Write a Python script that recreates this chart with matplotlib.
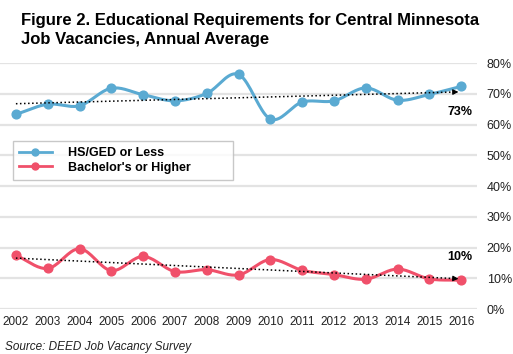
import matplotlib
matplotlib.use('Agg')
import matplotlib.pyplot as plt
import numpy as np

plt.rcParams['font.family'] = ['Liberation Sans', 'DejaVu Sans']

years = list(range(2002, 2017))
hs_ged = [63.3, 66.6, 66.1, 71.8, 69.7, 67.7, 70.1, 76.3, 61.8, 67.3, 67.7, 71.9, 67.9, 69.8, 72.4]
bachelors = [17.5, 13.2, 19.6, 12.5, 17.1, 12.2, 12.8, 11.1, 16.1, 12.6, 11.2, 9.7, 13.0, 9.8, 9.4]
ytick_vals = [0, 10, 20, 30, 40, 50, 60, 70, 80]

blue = '#5aaad2'
red = '#f0506a'


def smooth(x, y, n=20):
    # catmull-rom curve through the points, like the spreadsheet "smoothed line"
    x = np.asarray(x, float)
    y = np.asarray(y, float)
    xs, ys = [], []
    for i in range(len(x) - 1):
        p0 = y[i - 1] if i > 0 else y[i]
        p3 = y[i + 2] if i + 2 < len(y) else y[i + 1]
        m1 = (y[i + 1] - p0) / (2 if i > 0 else 1)
        m2 = (p3 - y[i]) / (2 if i + 2 < len(y) else 1)
        t = np.linspace(0, 1, n)
        h00 = 2*t**3 - 3*t**2 + 1
        h10 = t**3 - 2*t**2 + t
        h01 = -2*t**3 + 3*t**2
        h11 = t**3 - t**2
        xs.append(x[i] + t*(x[i + 1] - x[i]))
        ys.append(h00*y[i] + h10*m1 + h01*y[i + 1] + h11*m2)
    return np.concatenate(xs), np.concatenate(ys)


fig = plt.figure(figsize=(5.13, 3.54), dpi=100)
ax = fig.add_axes([0.0, 0.127, 0.93, 0.695])

for y in ytick_vals:
    ax.axhline(y, color='#e3e3e3', lw=1.6, zorder=0)

for vals, col, lab in [(hs_ged, blue, 'HS/GED or Less'), (bachelors, red, "Bachelor's or Higher")]:
    sx, sy = smooth(years, vals)
    ax.plot(sx, sy, color=col, lw=2.2, zorder=2)
    ax.plot(years, vals, 'o', color=col, ms=6.3, zorder=3)
    ax.plot([], [], '-o', color=col, lw=2, ms=5, label=lab)
    # linear trend with arrow head
    k, b = np.polyfit(years, vals, 1)
    x0, x1 = years[0], years[-1]
    ax.plot([x0, x1 - 0.25], [k*x0 + b, k*(x1 - 0.25) + b], ':', color='black', lw=1.1, zorder=4)
    ax.annotate('', xy=(x1, k*x1 + b), xytext=(x1 - 0.3, k*(x1 - 0.3) + b),
                arrowprops=dict(arrowstyle='-|>', color='black', lw=0.8, mutation_scale=8), zorder=4)

ax.text(years[-1] - 0.05, 64.2, '73%', fontsize=9, fontweight='bold', ha='center', va='center')
ax.text(years[-1] - 0.05, 16.9, '10%', fontsize=9, fontweight='bold', ha='center', va='center')

ax.set_xlim(2001.5, 2016.5)
ax.set_ylim(0, 80)
ax.set_xticks(years)
ax.set_xticklabels([str(y) for y in years], fontsize=8.5, color='#222222')
ax.set_yticks(ytick_vals)
ax.set_yticklabels([f'{v}%' for v in ytick_vals], fontsize=9, color='#222222')
ax.yaxis.tick_right()
ax.tick_params(length=0, pad=5)
ax.tick_params(axis='y', pad=7)
for s in ax.spines.values():
    s.set_visible(False)

leg = ax.legend(loc='lower left', bbox_to_anchor=(0.027, 0.525, 0.461, 0.17), mode='expand',
                fontsize=9, frameon=True, fancybox=False, edgecolor='#bbbbbb', handlelength=2.6,
                borderpad=0.5, labelspacing=0.2, handletextpad=1.3, borderaxespad=0)
for t in leg.get_texts():
    t.set_fontweight('bold')
leg.get_frame().set_linewidth(1.0)

fig.text(0.04, 0.915, 'Figure 2. Educational Requirements for Central Minnesota\nJob Vacancies, Annual Average',
         fontsize=12, fontweight='bold', va='center', ha='left', linespacing=1.35)
fig.text(0.01, 0.012, 'Source: DEED Job Vacancy Survey', fontsize=8.5, style='italic', color='#222222')

fig.savefig('out.png', dpi=100)
